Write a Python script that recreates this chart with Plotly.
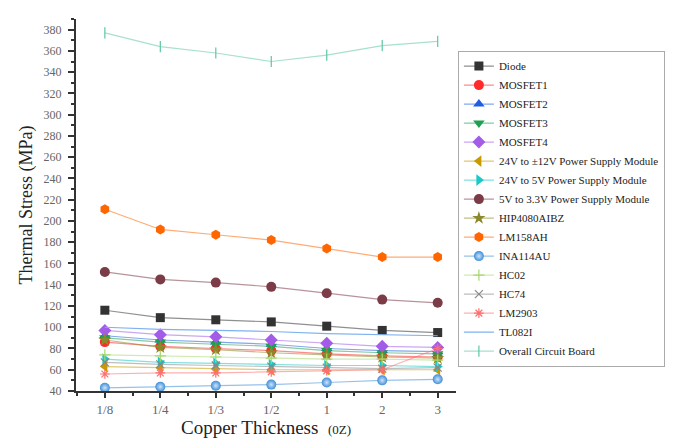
import plotly.graph_objects as go

categories = ["1/8", "1/4", "1/3", "1/2", "1", "2", "3"]

series_names = [
    "Diode", "MOSFET1", "MOSFET2", "MOSFET3", "MOSFET4",
    "24V to ±12V Power Supply Module", "24V to 5V Power Supply Module",
    "5V to 3.3V Power Supply Module", "HIP4080AIBZ", "LM158AH", "INA114AU",
    "HC02", "HC74", "LM2903", "TL082I", "Overall Circuit Board",
]

diode = [116, 109, 107, 105, 101, 97, 95]
mosfet1 = [86, 82, 80, 78, 75, 73, 72]
mosfet2 = [92, 88, 86, 84, 80, 78, 77]
mosfet3 = [90, 86, 84, 82, 78, 76, 75]
mosfet4 = [97, 93, 91, 88, 85, 82, 81]
psu_24_12 = [63, 62, 61, 60, 60, 60, 60]
psu_24_5 = [70, 67, 66, 65, 64, 64, 63]
psu_5_33 = [152, 145, 142, 138, 132, 126, 123]
hip4080 = [88, 81, 79, 76, 74, 72, 71]
lm158 = [211, 192, 187, 182, 174, 166, 166]
ina114 = [43, 44, 45, 46, 48, 50, 51]
hc02 = [74, 73, 72, 71, 70, 70, 69]
hc74 = [67, 65, 64, 63, 62, 61, 62]
lm2903 = [56, 57, 57, 58, 59, 60, 80]
tl082 = [100, 98, 97, 96, 94, 93, 92]
overall = [377, 364, 358, 350, 356, 365, 369]

values = [diode, mosfet1, mosfet2, mosfet3, mosfet4, psu_24_12, psu_24_5,
          psu_5_33, hip4080, lm158, ina114, hc02, hc74, lm2903, tl082, overall]

colors = ["#333333", "#FF2A2A", "#1E5FE0", "#1FA050", "#A35CE8", "#C99A00",
          "#1AC8C8", "#7B3B47", "#8A8A2A", "#FF6600", "#3F8FD8", "#A6D86E",
          "#888888", "#FF6F6F", "#7FB2F0", "#5CC8A0"]
symbols = ["square", "circle", "triangle-up", "triangle-down", "diamond",
           "triangle-left", "triangle-right", "circle", "star", "hexagon",
           "circle", "cross-thin-open", "x-thin-open", "asterisk-open",
           "circle", "line-ns-open"]
sizes = [9, 10, 10, 10, 10, 10, 10, 10, 10, 10, 10, 8, 8, 8, 0, 8]


def rgba(hexc, a):
    h = hexc.lstrip("#")
    r, g, b = int(h[0:2], 16), int(h[2:4], 16), int(h[4:6], 16)
    return f"rgba({r},{g},{b},{a})"


x = list(range(len(categories)))
fig = go.Figure()
for name, vals, c, s, sz in zip(series_names, values, colors, symbols, sizes):
    marker = dict(symbol=s, size=sz, color=c, line=dict(width=1.2 if "open" in s else 0, color=c))
    if name == "INA114AU":
        marker["gradient"] = dict(type="radial", color="#CFE4FA")
    mode = "lines" if name == "TL082I" else "lines+markers"
    fig.add_trace(go.Scatter(
        x=x, y=vals, name=name, mode=mode,
        line=dict(color=rgba(c, 0.55) if name != "TL082I" else c, width=1.2),
        marker=marker,
    ))

font_family = "Liberation Serif, Times New Roman, serif"
fig.update_layout(
    width=687, height=440,
    margin=dict(l=68, r=239, t=11, b=57),
    paper_bgcolor="white", plot_bgcolor="white",
    font=dict(family=font_family, color="#333"),
    showlegend=True,
    legend=dict(
        x=1.005, y=0.915, xanchor="left", yanchor="top",
        font=dict(family=font_family, size=11, color="#222"),
        bordercolor="#AAAAAA", borderwidth=1, bgcolor="white",
        tracegroupgap=0, itemwidth=30,
    ),
    xaxis=dict(
        range=[-0.52, 6.33], tickvals=x, ticktext=categories,
        showgrid=False, zeroline=False, showline=True, linecolor="#333", linewidth=2,
        ticks="outside", ticklen=5, tickwidth=1.5, tickcolor="#333",
        tickfont=dict(family=font_family, size=13, color="#666"),
        minor=dict(tickvals=[i + 0.5 for i in range(-1, len(categories))],
                   ticks="outside", ticklen=3, tickcolor="#333"),
        title=dict(text="Copper Thickness  <span style='font-size:13px'>(0Z)</span>",
                   font=dict(family=font_family, size=19, color="#222"), standoff=5),
    ),
    yaxis=dict(
        range=[40, 390], dtick=20, tick0=40,
        showgrid=False, zeroline=False, showline=True, linecolor="#333", linewidth=2,
        ticks="outside", ticklen=6, tickwidth=1.5, tickcolor="#333",
        ticklabelstandoff=4,
        tickfont=dict(family=font_family, size=12, color="#666"),
        minor=dict(dtick=10, ticks="outside", ticklen=3, tickcolor="#333"),
        title=dict(text="Thermal Stress (MPa)",
                   font=dict(family=font_family, size=18, color="#222"), standoff=6),
    ),
)

fig.write_html("out.html")
